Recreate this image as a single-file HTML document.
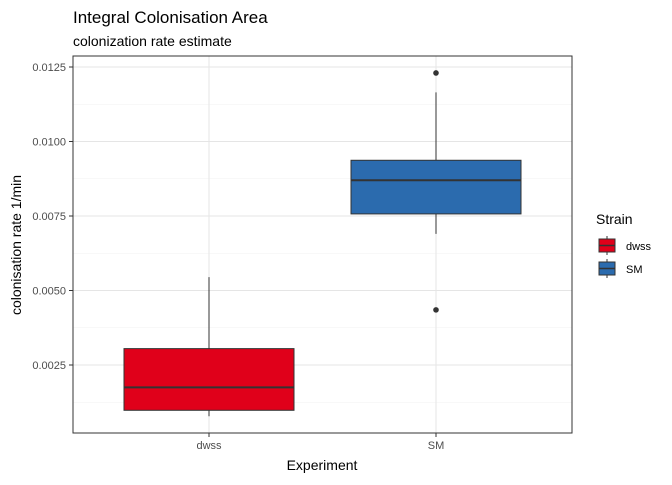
<!DOCTYPE html>
<html><head><meta charset="utf-8"><style>
body{margin:0;background:#fff;font-family:"Liberation Sans",Arial,sans-serif;}
svg text{font-family:"Liberation Sans",Arial,sans-serif;}
</style></head><body>
<svg id="chart" width="672" height="480">
<text x="73" y="23" font-size="17" fill="#000">Integral Colonisation Area</text>
<text x="73" y="46" font-size="14" fill="#000">colonization rate estimate</text>
<g id="grid"></g>
<g id="marks"></g>
<rect x="73" y="56" width="499" height="377" fill="none" stroke="#333" stroke-width="1"/>
<g id="axes"></g>
<text x="322" y="470" font-size="14" text-anchor="middle">Experiment</text>
<text transform="translate(21,245) rotate(-90)" font-size="14" text-anchor="middle">colonisation rate 1/min</text>
<g>
<text x="596" y="224" font-size="14">Strain</text>
<g>
<line x1="607" y1="236" x2="607" y2="255" stroke="#333"/>
<rect x="599" y="239" width="16" height="13" fill="#E0001A" stroke="#333"/>
<line x1="599" y1="245.5" x2="615" y2="245.5" stroke="#333" stroke-width="1.5"/>
<text x="626" y="250" font-size="11">dwss</text></g>
<g>
<line x1="607" y1="259" x2="607" y2="278" stroke="#333"/>
<rect x="599" y="262" width="16" height="13" fill="#2B6BAE" stroke="#333"/>
<line x1="599" y1="268.5" x2="615" y2="268.5" stroke="#333" stroke-width="1.5"/>
<text x="626" y="273" font-size="11">SM</text></g>
</g>
</svg>
<script>
const categories=["dwss","SM"];
const colors=["#E0001A","#2B6BAE"];
const lowerWhisker=[0.00078,0.0069];
const q1=[0.00098,0.00757];
const median=[0.00175,0.0087];
const q3=[0.00305,0.00937];
const upperWhisker=[0.00545,0.01165];
const outliers=[[],[0.0123,0.00435]];
const yTicks=[0.0025,0.005,0.0075,0.01,0.0125];
const yTickLabels=["0.0025","0.0050","0.0075","0.0100","0.0125"];
const NS="http://www.w3.org/2000/svg";
function y(v){return 365-(v-0.0025)/0.0025*74.5;}
function x(i){return 209+i*227;}
function mk(tag,attrs,parent){const e=document.createElementNS(NS,tag);for(const k in attrs)e.setAttribute(k,attrs[k]);parent.appendChild(e);return e;}
const grid=document.getElementById('grid'),marks=document.getElementById('marks'),axes=document.getElementById('axes');
mk('rect',{x:73,y:56,width:499,height:377,fill:'#fff'},grid);
for(let i=0;i<yTicks.length;i++){
 const v=yTicks[i];
 let l=mk('line',{x1:73,x2:572,y1:y(v),y2:y(v),stroke:'#e5e5e5','stroke-width':1},grid);
 
 
 const m=v-0.00125;
 let l2=mk('line',{x1:73,x2:572,y1:y(m),y2:y(m),stroke:'#f2f2f2','stroke-width':0.6},grid);
 
 
 mk('line',{x1:69,x2:73,y1:y(v),y2:y(v),stroke:'#333'},axes);
 let t=mk('text',{x:66,y:y(v)+4,'font-size':11,'text-anchor':'end',fill:'#4d4d4d'},axes);
 t.textContent=yTickLabels[i];
 
 
}
categories.forEach((c,i)=>{
 let g=mk('line',{x1:x(i),x2:x(i),y1:56,y2:433,stroke:'#e5e5e5'},grid);
 
 
 mk('line',{x1:x(i),x2:x(i),y1:433,y2:437,stroke:'#333'},axes);
 let t=mk('text',{x:x(i),y:449,'font-size':11,'text-anchor':'middle',fill:'#4d4d4d'},axes);
 t.textContent=c;
 
 
 const g2=mk('g',{},marks);
 
 
 mk('line',{x1:x(i),x2:x(i),y1:y(upperWhisker[i]),y2:y(q3[i]),stroke:'#333'},g2);
 mk('line',{x1:x(i),x2:x(i),y1:y(q1[i]),y2:y(lowerWhisker[i]),stroke:'#333'},g2);
 mk('rect',{x:x(i)-85,y:y(q3[i]),width:170,height:y(q1[i])-y(q3[i]),fill:colors[i],stroke:'#333'},g2);
 mk('line',{x1:x(i)-85,x2:x(i)+85,y1:y(median[i]),y2:y(median[i]),stroke:'#333','stroke-width':2},g2);
 outliers[i].forEach(o=>{
  let p=mk('circle',{cx:x(i),cy:y(o),r:2.8,fill:'#333'},marks);
  
  
 });
});
</script>
</body></html>
